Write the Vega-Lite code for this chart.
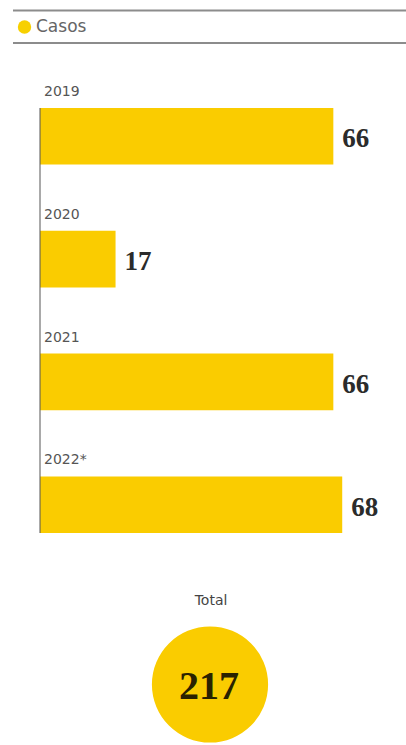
{
  "$schema": "https://vega.github.io/schema/vega-lite/v6.json",
  "padding": 0,
  "spacing": 0,
  "bounds": "flush",
  "background": "white",
  "config": {"view": {"stroke": null}},
  "resolve": {"scale": {"x": "independent", "y": "independent", "color": "independent"}},
  "datasets": {
    "serie": [{"serie": "Casos"}],
    "casos": [
      {"anio": "2019", "casos": 66},
      {"anio": "2020", "casos": 17},
      {"anio": "2021", "casos": 66},
      {"anio": "2022*", "casos": 68}
    ],
    "total": [{"etiqueta": "Total", "casos": 217}]
  },
  "vconcat": [
    {
      "width": 406,
      "height": 108,
      "data": {"name": "serie"},
      "layer": [
        {
          "mark": {"type": "rule", "color": "#8c8c8c", "strokeWidth": 2},
          "encoding": {
            "x": {"datum": 13, "type": "quantitative", "scale": {"domain": [0, 406], "nice": false, "zero": false}, "axis": null},
            "x2": {"datum": 406},
            "y": {"datum": 10.5, "type": "quantitative", "scale": {"domain": [0, 108], "nice": false, "zero": false, "reverse": true}, "axis": null}
          }
        },
        {
          "mark": {"type": "rule", "color": "#8c8c8c", "strokeWidth": 2},
          "encoding": {
            "x": {"datum": 13, "type": "quantitative"},
            "x2": {"datum": 406},
            "y": {"datum": 43, "type": "quantitative"}
          }
        },
        {
          "mark": {"type": "point", "shape": "circle", "filled": true, "opacity": 1, "size": 180},
          "encoding": {
            "x": {"datum": 24.5, "type": "quantitative"},
            "y": {"datum": 27, "type": "quantitative"},
            "color": {"field": "serie", "type": "nominal", "scale": {"range": ["#F7D000"]}, "legend": null}
          }
        },
        {
          "mark": {"type": "text", "align": "left", "baseline": "middle", "font": "DejaVu Sans", "fontSize": 17, "color": "#666666"},
          "encoding": {
            "x": {"datum": 36, "type": "quantitative"},
            "y": {"datum": 27, "type": "quantitative"},
            "text": {"field": "serie"}
          }
        }
      ]
    },
    {
      "width": 406,
      "height": 425,
      "data": {"name": "casos"},
      "layer": [
        {
          "mark": {"type": "bar", "color": "#FACC00"},
          "encoding": {
            "y": {"field": "anio", "type": "nominal", "sort": null, "scale": {"paddingInner": 0.539, "paddingOuter": 0}, "axis": null},
            "x": {"field": "casos", "type": "quantitative", "scale": {"domain": [-9, 82.35], "nice": false, "zero": false}, "axis": null},
            "x2": {"datum": 0}
          }
        },
        {
          "data": {"values": [{}]},
          "mark": {"type": "rule", "color": "#555555", "strokeWidth": 1},
          "encoding": {"x": {"datum": 0, "type": "quantitative"}}
        },
        {
          "mark": {"type": "text", "align": "left", "baseline": "alphabetic", "dx": 4, "dy": -12, "font": "DejaVu Sans", "fontSize": 14, "color": "#555555"},
          "encoding": {
            "x": {"datum": 0, "type": "quantitative"},
            "y": {"field": "anio", "type": "nominal", "sort": null, "bandPosition": 0},
            "text": {"field": "anio"}
          }
        },
        {
          "mark": {"type": "text", "align": "left", "baseline": "middle", "dx": 9, "dy": 3, "font": "Liberation Serif", "fontWeight": "bold", "fontSize": 27, "color": "#2b2b2b"},
          "encoding": {
            "x": {"field": "casos", "type": "quantitative"},
            "y": {"field": "anio", "type": "nominal", "sort": null},
            "text": {"field": "casos"}
          }
        }
      ]
    },
    {
      "width": 406,
      "height": 212,
      "data": {"name": "total"},
      "layer": [
        {
          "mark": {"type": "text", "align": "center", "baseline": "middle", "font": "DejaVu Sans", "fontSize": 14, "color": "#444444"},
          "encoding": {
            "x": {"datum": 211, "type": "quantitative", "scale": {"domain": [0, 406], "nice": false, "zero": false}, "axis": null},
            "y": {"datum": 68, "type": "quantitative", "scale": {"domain": [0, 212], "nice": false, "zero": false, "reverse": true}, "axis": null},
            "text": {"field": "etiqueta"}
          }
        },
        {
          "mark": {"type": "point", "shape": "circle", "filled": true, "opacity": 1, "size": 13500, "color": "#FACC00"},
          "encoding": {
            "x": {"datum": 210, "type": "quantitative"},
            "y": {"datum": 151.5, "type": "quantitative"}
          }
        },
        {
          "mark": {"type": "text", "align": "center", "baseline": "middle", "dy": 2, "font": "Liberation Serif", "fontWeight": "bold", "fontSize": 40, "color": "#2a2200"},
          "encoding": {
            "x": {"datum": 209, "type": "quantitative"},
            "y": {"datum": 151.5, "type": "quantitative"},
            "text": {"field": "casos"}
          }
        }
      ]
    }
  ]
}
